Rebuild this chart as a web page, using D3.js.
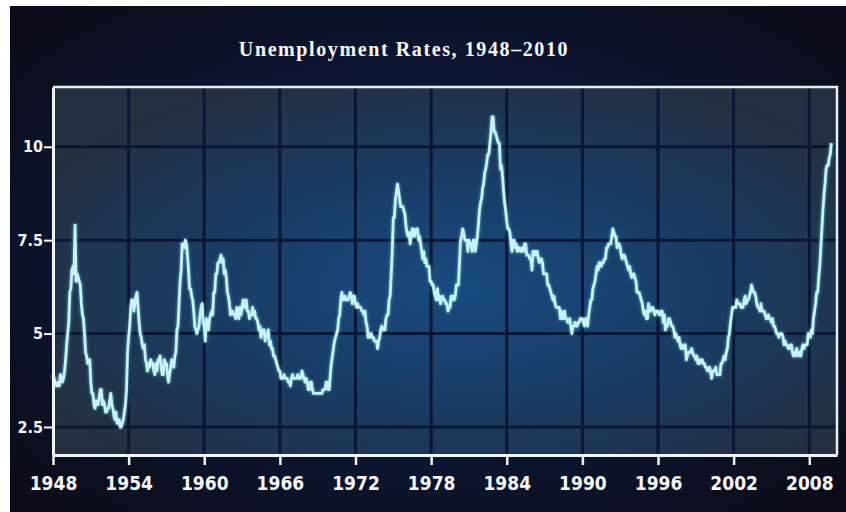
<!DOCTYPE html>
<html><head><meta charset="utf-8">
<script src="https://cdn.jsdelivr.net/npm/d3@7"></script>
<style>html,body{margin:0;padding:0;background:#fff;}svg{display:block;}</style>
</head><body>
<svg id="chart" width="846" height="512"></svg>
<script>
// ---- data (monthly unemployment rate, %) ----
const startYear = 1948;
const title = "Unemployment Rates, 1948\u20132010";
const yTicks = [2.5, 5, 7.5, 10];
const yTickLabels = ["2.5", "5", "7.5", "10"];
const xTicks = [1948, 1954, 1960, 1966, 1972, 1978, 1984, 1990, 1996, 2002, 2008];

const rates1940s = [
  3.9,3.8,3.7,3.6,3.6,3.7,3.6,3.9,3.8,3.7,3.8,4.0,
  4.3,4.7,5.0,5.3,6.1,6.2,6.7,6.8,6.6,7.9,6.4,6.6
];
const rates1950s = [
  6.5,6.4,6.3,5.8,5.5,5.4,5.0,4.5,4.4,4.2,4.2,4.3,
  3.7,3.4,3.4,3.1,3.0,3.2,3.1,3.1,3.3,3.5,3.5,3.1,
  3.2,3.1,2.9,2.9,3.0,3.0,3.2,3.4,3.1,3.0,2.8,2.7,
  2.9,2.6,2.6,2.7,2.5,2.5,2.6,2.7,2.9,3.1,3.5,4.5,
  4.9,5.2,5.7,5.9,5.9,5.6,5.8,6.0,6.1,5.7,5.3,5.0,
  4.9,4.7,4.6,4.7,4.3,4.2,4.0,4.2,4.1,4.3,4.2,4.2,
  4.0,3.9,4.2,4.0,4.3,4.3,4.4,4.1,3.9,3.9,4.3,4.2,
  4.2,3.9,3.7,3.9,4.1,4.3,4.2,4.1,4.4,4.5,5.1,5.2,
  5.8,6.4,6.7,7.4,7.4,7.3,7.5,7.4,7.1,6.7,6.2,6.2,
  6.0,5.9,5.6,5.2,5.1,5.0,5.1,5.2,5.5,5.7,5.8,5.3
];
const rates1960s = [
  5.2,4.8,5.4,5.2,5.1,5.4,5.5,5.6,5.5,6.1,6.1,6.6,
  6.6,6.9,6.9,7.0,7.1,6.9,7.0,6.6,6.7,6.5,6.1,6.0,
  5.8,5.5,5.6,5.6,5.5,5.5,5.4,5.7,5.6,5.4,5.7,5.5,
  5.7,5.9,5.7,5.7,5.9,5.6,5.6,5.4,5.5,5.5,5.7,5.5,
  5.6,5.4,5.4,5.3,5.1,5.2,4.9,5.0,5.1,5.1,4.8,5.0,
  4.9,5.1,4.7,4.8,4.6,4.6,4.4,4.4,4.3,4.2,4.1,4.0,
  4.0,3.8,3.8,3.8,3.9,3.8,3.8,3.8,3.7,3.7,3.6,3.8,
  3.9,3.8,3.8,3.8,3.8,3.9,3.8,3.8,3.8,4.0,3.9,3.8,
  3.7,3.8,3.7,3.5,3.5,3.7,3.7,3.5,3.4,3.4,3.4,3.4,
  3.4,3.4,3.4,3.4,3.4,3.5,3.5,3.5,3.7,3.7,3.5,3.5
];
const rates1970s = [
  3.9,4.2,4.4,4.6,4.8,4.9,5.0,5.1,5.4,5.5,5.9,6.1,
  5.9,5.9,6.0,5.9,5.9,5.9,6.0,6.1,6.0,5.8,6.0,6.0,
  5.8,5.7,5.8,5.7,5.7,5.7,5.6,5.6,5.5,5.6,5.3,5.2,
  4.9,5.0,4.9,5.0,4.9,4.9,4.8,4.8,4.8,4.6,4.8,4.9,
  5.1,5.2,5.1,5.1,5.1,5.4,5.5,5.5,5.9,6.0,6.6,7.2,
  8.1,8.1,8.6,8.8,9.0,8.8,8.6,8.4,8.4,8.4,8.3,8.2,
  7.9,7.7,7.6,7.7,7.4,7.6,7.8,7.8,7.6,7.7,7.8,7.8,
  7.5,7.6,7.4,7.2,7.0,7.2,6.9,7.0,6.8,6.8,6.8,6.4,
  6.4,6.3,6.3,6.1,6.0,5.9,6.2,5.9,6.0,5.8,5.9,6.0,
  5.9,5.9,5.8,5.8,5.6,5.7,5.7,6.0,5.9,6.0,5.9,6.0
];
const rates1980s = [
  6.3,6.3,6.3,6.9,7.5,7.6,7.8,7.7,7.5,7.5,7.5,7.2,
  7.5,7.4,7.4,7.2,7.5,7.5,7.2,7.4,7.6,7.9,8.3,8.5,
  8.6,8.9,9.0,9.3,9.4,9.6,9.8,9.8,10.1,10.4,10.8,10.8,
  10.4,10.4,10.3,10.2,10.1,10.1,9.4,9.5,9.2,8.8,8.5,8.3,
  8.0,7.8,7.8,7.7,7.4,7.2,7.5,7.5,7.3,7.4,7.2,7.3,
  7.3,7.2,7.2,7.3,7.2,7.4,7.4,7.1,7.1,7.1,7.0,7.0,
  6.7,7.2,7.2,7.1,7.2,7.2,7.0,6.9,7.0,7.0,6.9,6.6,
  6.6,6.6,6.6,6.3,6.3,6.2,6.1,6.0,5.9,6.0,5.8,5.7,
  5.7,5.7,5.7,5.4,5.6,5.4,5.4,5.6,5.4,5.4,5.3,5.3,
  5.4,5.2,5.0,5.2,5.2,5.3,5.2,5.2,5.3,5.3,5.4,5.4
];
const rates1990s = [
  5.4,5.3,5.2,5.4,5.4,5.2,5.5,5.7,5.9,5.9,6.2,6.3,
  6.4,6.6,6.8,6.7,6.9,6.9,6.8,6.9,6.9,7.0,7.0,7.3,
  7.3,7.4,7.4,7.4,7.6,7.8,7.7,7.6,7.6,7.3,7.4,7.4,
  7.3,7.1,7.0,7.1,7.1,7.0,6.9,6.8,6.7,6.8,6.6,6.5,
  6.6,6.6,6.5,6.4,6.1,6.1,6.1,6.0,5.9,5.8,5.6,5.5,
  5.6,5.4,5.4,5.8,5.6,5.6,5.7,5.7,5.6,5.5,5.6,5.6,
  5.6,5.5,5.5,5.6,5.6,5.3,5.5,5.1,5.2,5.2,5.4,5.4,
  5.3,5.2,5.2,5.1,4.9,5.0,4.9,4.8,4.9,4.7,4.6,4.7,
  4.6,4.6,4.7,4.3,4.4,4.5,4.5,4.5,4.6,4.5,4.4,4.4,
  4.3,4.4,4.2,4.3,4.2,4.3,4.3,4.2,4.2,4.1,4.1,4.0
];
const rates2000s = [
  4.0,4.1,4.0,3.8,4.0,4.0,4.0,4.1,3.9,3.9,3.9,3.9,
  4.2,4.2,4.3,4.4,4.3,4.5,4.6,4.9,5.0,5.3,5.5,5.7,
  5.7,5.7,5.7,5.9,5.8,5.8,5.8,5.7,5.7,5.7,5.9,6.0,
  5.8,5.9,5.9,6.0,6.1,6.3,6.2,6.1,6.1,6.0,5.8,5.7,
  5.7,5.6,5.8,5.6,5.6,5.6,5.5,5.4,5.4,5.5,5.4,5.4,
  5.3,5.4,5.2,5.2,5.1,5.0,5.0,4.9,5.0,5.0,5.0,4.9,
  4.7,4.8,4.7,4.7,4.6,4.6,4.7,4.7,4.5,4.4,4.5,4.4,
  4.6,4.5,4.4,4.5,4.4,4.6,4.7,4.6,4.7,4.7,4.7,5.0,
  5.0,4.9,5.1,5.0,5.4,5.6,5.8,6.1,6.1,6.5,6.8,7.3,
  7.8,8.3,8.7,9.0,9.4,9.5,9.5,9.7,9.8,10.1
];

const rates = [].concat(rates1940s, rates1950s, rates1960s, rates1970s, rates1980s, rates1990s, rates2000s);
const data = rates.map((v, i) => ({ t: startYear + i / 12, v }));

// ---- layout ----
const W = 846, H = 512;
const m = { left: 53, right: 837, top: 87, bottom: 455 };
const svg = d3.select("#chart");
const defs = svg.append("defs");

const bgGrad = defs.append("radialGradient").attr("id", "bg")
  .attr("cx", "50%").attr("cy", "50%").attr("r", "65%");
bgGrad.append("stop").attr("offset", "0%").attr("stop-color", "#142a5e");
bgGrad.append("stop").attr("offset", "50%").attr("stop-color", "#0e1738");
bgGrad.append("stop").attr("offset", "100%").attr("stop-color", "#0a0d19");

const plotGrad = defs.append("radialGradient").attr("id", "plotbg")
  .attr("cx", "52%").attr("cy", "55%").attr("r", "62%");
plotGrad.append("stop").attr("offset", "0%").attr("stop-color", "#174a80");
plotGrad.append("stop").attr("offset", "55%").attr("stop-color", "#1a3b62");
plotGrad.append("stop").attr("offset", "100%").attr("stop-color", "#242f3f");

const glow = defs.append("filter").attr("id", "glow")
  .attr("x", "-5%").attr("y", "-5%").attr("width", "110%").attr("height", "110%");
glow.append("feGaussianBlur").attr("stdDeviation", 1.2);

svg.append("rect").attr("width", W).attr("height", H).attr("fill", "#ffffff");
svg.append("rect").attr("x", 10).attr("y", 6).attr("width", W - 10).attr("height", H - 6).attr("fill", "url(#bg)");

const x = d3.scaleLinear().domain([1948, 2010.2]).range([m.left, m.right]);
const y = d3.scaleLinear().domain([1.75, 11.6]).range([m.bottom, m.top]);

svg.append("rect").attr("x", m.left).attr("y", m.top)
  .attr("width", m.right - m.left).attr("height", m.bottom - m.top)
  .attr("fill", "url(#plotbg)");

// grid
const grid = svg.append("g");
grid.selectAll(".vg").data(xTicks.slice(1)).join("line")
  .attr("x1", d => x(d)).attr("x2", d => x(d))
  .attr("y1", m.top).attr("y2", m.bottom)
  .attr("stroke", "#0a1634").attr("stroke-width", 3);
grid.selectAll(".hg").data(yTicks).join("line")
  .attr("x1", m.left).attr("x2", m.right)
  .attr("y1", d => y(d)).attr("y2", d => y(d))
  .attr("stroke", "#0a1634").attr("stroke-width", 3);

// frame (top and right)
svg.append("path")
  .attr("d", `M${m.left},${m.top}H${m.right}V${m.bottom}`)
  .attr("fill", "none").attr("stroke", "#e8eef4").attr("stroke-width", 2.5);

// line
const line = d3.line().x(d => x(d.t)).y(d => y(d.v));
svg.append("path").datum(data).attr("d", line)
  .attr("fill", "none").attr("stroke", "#5cc9dc").attr("stroke-width", 4.5)
  .attr("stroke-linejoin", "round").attr("opacity", 0.55).attr("filter", "url(#glow)");
svg.append("path").datum(data).attr("d", line)
  .attr("fill", "none").attr("stroke", "#c8f2f5").attr("stroke-width", 2.8)
  .attr("stroke-linejoin", "round");

// axes
const axisFont = "'DejaVu Sans Condensed', 'DejaVu Sans', sans-serif";
const xAxis = d3.axisBottom(x).tickValues(xTicks).tickFormat(d3.format("d"))
  .tickSize(10).tickSizeOuter(0);
const gx = svg.append("g").attr("transform", `translate(0,${m.bottom})`).call(xAxis);
gx.select(".domain").attr("stroke", "#f0f4f8").attr("stroke-width", 3);
gx.selectAll(".tick line").attr("stroke", "#f0f4f8").attr("stroke-width", 2.5);
gx.selectAll(".tick text").attr("fill", "#f4f6f8").attr("dy", 0).attr("y", 35)
  .style("font-family", axisFont)
  .style("font-weight", "bold").style("font-size", "19px");

const yAxis = d3.axisLeft(y).tickValues(yTicks)
  .tickFormat((d, i) => yTickLabels[i]).tickSize(9).tickSizeOuter(0);
const gy = svg.append("g").attr("transform", `translate(${m.left},0)`).call(yAxis);
gy.select(".domain").attr("stroke", "#f0f4f8").attr("stroke-width", 3);
gy.selectAll(".tick line").attr("stroke", "#f0f4f8").attr("stroke-width", 2);
gy.selectAll(".tick text").attr("fill", "#f4f6f8").attr("x", -10)
  .style("font-family", axisFont)
  .style("font-weight", "bold").style("font-size", "16px");

// title
svg.append("text").attr("x", 404).attr("y", 56).attr("text-anchor", "middle")
  .attr("fill", "#f6f8fa")
  .style("font-family", "'Liberation Serif', 'DejaVu Serif', serif")
  .style("font-weight", "bold").style("font-size", "20px")
  .style("letter-spacing", "1.6px")
  .text(title);
</script>
</body></html>
